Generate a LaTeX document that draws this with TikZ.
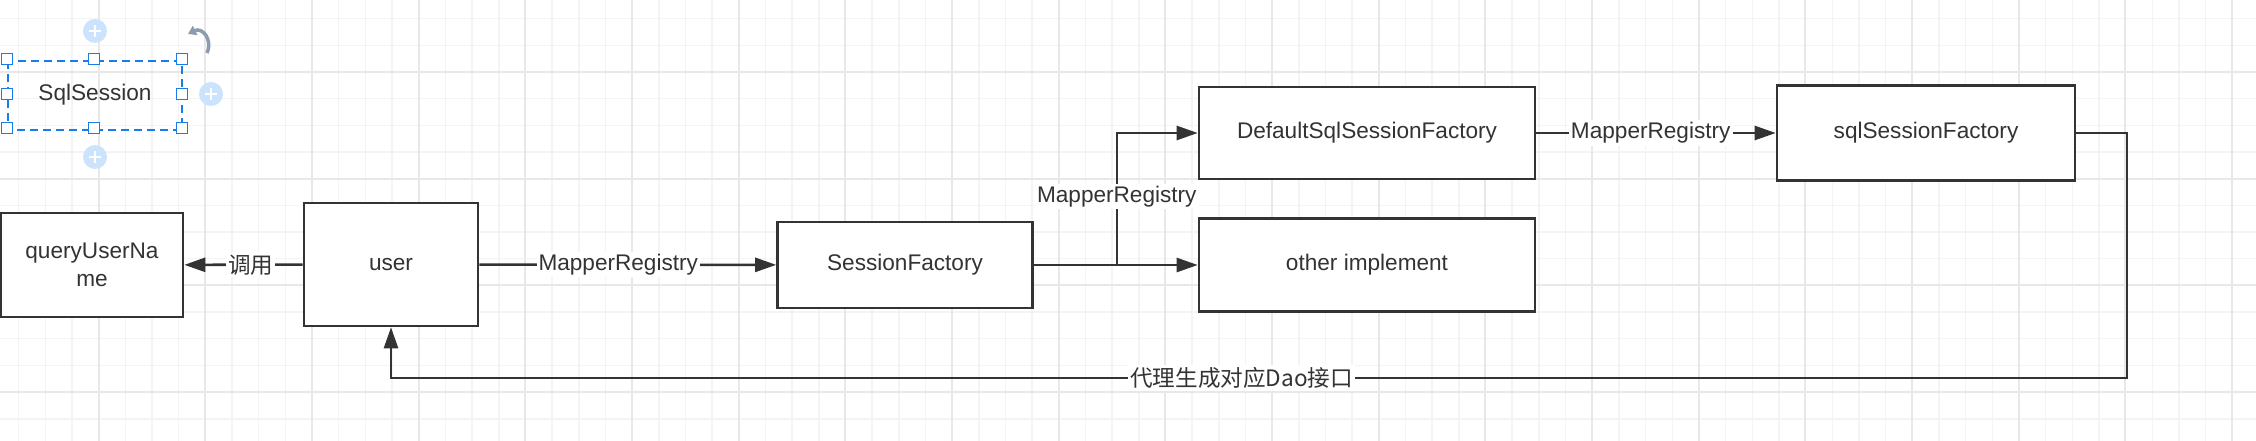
\documentclass[tikz,border=0pt]{standalone}
\usepackage{fontspec}
\setmainfont{Liberation Sans}
\newfontfamily\cjk{Noto Sans CJK SC}
\usetikzlibrary{arrows.meta}
\definecolor{ink}{HTML}{333333}
\definecolor{gridminor}{HTML}{F4F4F4}
\definecolor{gridmajor}{HTML}{E8E8E8}
\definecolor{selblue}{HTML}{1A7CE8}
\definecolor{plusblue}{HTML}{CCE3FD}
\definecolor{rotgrey}{HTML}{8C9BAF}

\begin{document}
\begin{tikzpicture}[x=1pt,y=-1pt]
% Estilos
\tikzset{class box/.style={draw=ink,line width=2.6pt,fill=white,text=ink,inner sep=0pt,font=\fontsize{22.6}{28}\selectfont},
  flow/.style={draw=ink,line width=2.6pt,-{Triangle[length=21pt,width=14pt]}},
  flow label/.style={fill=white,text=ink,inner sep=2pt,font=\fontsize{22.6}{28}\selectfont},
  handle/.style={draw=selblue,line width=1.5pt,fill=white,minimum size=11pt,inner sep=0pt},
  plus dot/.style={circle,fill=plusblue,minimum size=24pt,inner sep=0pt}}

\useasboundingbox (0,0) rectangle (2256,441);
\fill[white] (0,0) rectangle (2256,441);

% Cuadrícula
\foreach \i in {0,...,84} \draw[gridminor,line width=1.5pt] ({18.7+26.67*\i},0) -- ++(0,441);
\foreach \j in {0,...,15} \draw[gridminor,line width=1.5pt] (0,{18.7+26.67*\j}) -- ++(2256,0);
\foreach \i in {0,...,20} \draw[gridmajor,line width=2pt] ({98.7+106.67*\i},0) -- ++(0,441);
\foreach \j in {0,...,3} \draw[gridmajor,line width=2pt] (0,{72+106.67*\j}) -- ++(2256,0);

% Cajas
\node[class box,minimum width=182pt,minimum height=104pt,align=center] (query) at (92,265) {queryUserNa\\me};
\node[class box,minimum width=174pt,minimum height=123pt] (user) at (391,264.5) {user};
\node[class box,minimum width=255pt,minimum height=86pt] (factory) at (905,265) {SessionFactory};
\node[class box,minimum width=336pt,minimum height=92pt] (default) at (1367,133) {DefaultSqlSessionFactory};
\node[class box,minimum width=336pt,minimum height=93pt] (other) at (1367,265) {other implement};
\node[class box,minimum width=298pt,minimum height=95pt] (sqlfactory) at (1926,133) {sqlSessionFactory};

% Flechas
\draw[flow] (user) -- node[flow label,pos=0.44]{\cjk 调用} (query);
\draw[flow] (user) -- node[flow label,pos=0.468]{MapperRegistry} (factory);
\draw[flow] (factory.east) -- ++(83,0) |- node[flow label,pos=0.26]{MapperRegistry} (default.west);
\draw[flow] (factory) -- (other);
\draw[flow] (default) -- node[flow label,pos=0.478]{MapperRegistry} (sqlfactory);
\coordinate (loop) at (2127,378);
\draw[flow] (sqlfactory.east) -| (loop) -| node[flow label,pos=0.255]{\cjk 代理生成对应Dao接口} (user.south);

% Seleccion
\node[text=ink,font=\fontsize{22.6}{28}\selectfont] (sqlsession) at (95,95) {SqlSession};
\draw[selblue,line width=1.8pt,dash pattern=on 8pt off 5pt] (8,61) rectangle (182,130);
\foreach \hx/\hy [count=\k] in {7/59,94/59,182/59,7/94,182/94,7/128,94/128,182/128}
  \node[handle] (handle\k) at (\hx,\hy) {};
\foreach \px/\py [count=\k] in {95/31,211/94,95/157} {
  \node[plus dot] (plus\k) at (\px,\py) {};
  \draw[white,line width=2pt] (plus\k.center) ++(-6,0) -- ++(12,0) (plus\k.center) ++(0,-6) -- ++(0,12);
}
\draw[rotgrey,line width=3.5pt,-{Triangle[length=8pt,width=10pt]}] (207,53) .. controls (213,39) and (202,27) .. (188,34);

\end{tikzpicture}
\end{document}
